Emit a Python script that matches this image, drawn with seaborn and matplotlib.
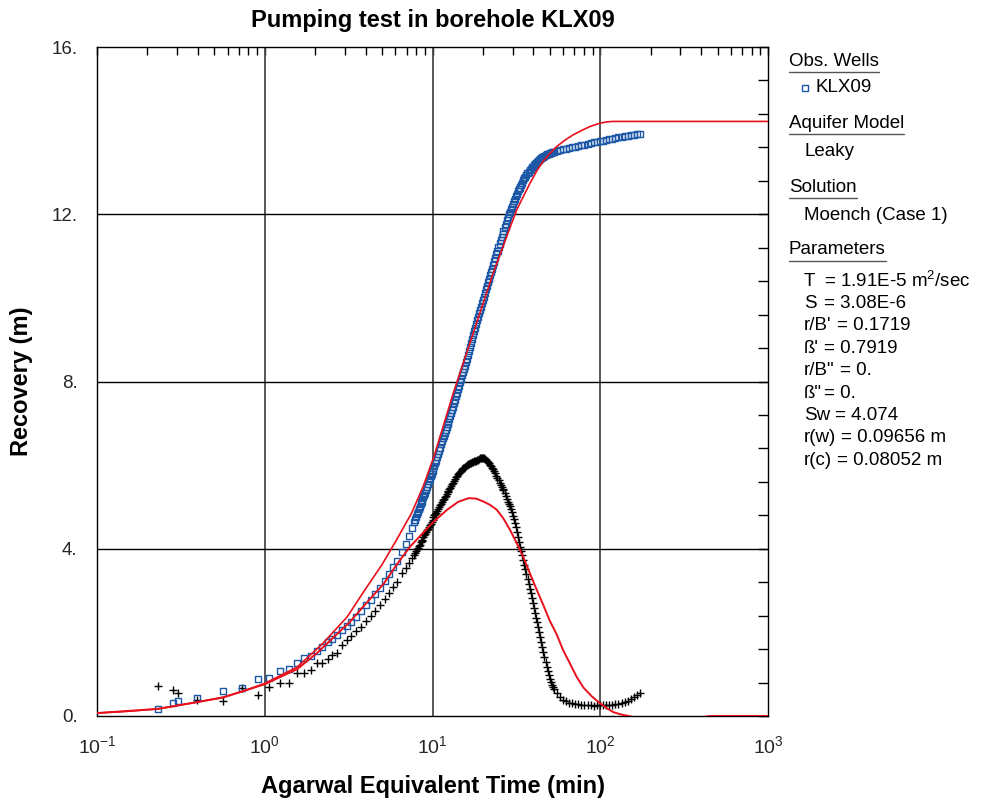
import matplotlib
matplotlib.use("Agg")
import matplotlib.pyplot as plt
import seaborn as sns
import pandas as pd
from matplotlib.ticker import FixedLocator, FixedFormatter, NullFormatter, MultipleLocator
from matplotlib.lines import Line2D

# ---------------- data ----------------
time_min = [0.231, 0.284, 0.304, 0.394, 0.563, 0.731, 0.911, 1.06, 1.23, 1.40,
            1.56, 1.71, 1.89, 2.05, 2.19, 2.38, 2.52, 2.70, 2.89, 3.09,
            3.27, 3.50, 3.75, 4.02, 4.30, 4.54, 4.86, 5.21, 5.51, 5.82,
            6.14, 6.58, 6.95, 7.24, 7.55,
            7.8, 7.9, 8.0, 8.1, 8.2, 8.3, 8.4, 8.5, 8.6, 8.7,
            8.8, 8.9, 9.0, 9.12, 9.25, 9.37, 9.5, 9.62, 9.75, 9.87,
            10.0, 10.12, 10.25, 10.37, 10.5, 10.65, 10.8, 10.95, 11.1, 11.25,
            11.4, 11.55, 11.7, 11.85, 12.0, 12.15, 12.3, 12.45, 12.6, 12.75,
            12.9, 13.05, 13.2, 13.4, 13.6, 13.8, 14.0, 14.2, 14.4, 14.6,
            14.8, 15.0, 15.2, 15.4, 15.6, 15.8, 16.0, 16.25, 16.5, 16.75,
            17.0, 17.25, 17.5, 17.75, 18.0, 18.25, 18.5, 18.75, 19.0, 19.25,
            19.5, 19.75, 20.0, 20.3, 20.6, 20.9, 21.2, 21.5, 21.8, 22.1,
            22.4, 22.7, 23.0, 23.35, 23.7, 24.05, 24.4, 24.75, 25.1, 25.45,
            25.8, 26.15, 26.5, 26.9, 27.3, 27.7, 28.1, 28.5, 28.9, 29.3,
            29.7, 30.15, 30.6, 31.05, 31.5, 31.95, 32.4, 32.85, 33.3, 33.8,
            34.3, 34.8, 35.3, 35.8, 36.3, 36.85, 37.4, 37.95, 38.5, 39.05,
            39.6, 40.2, 40.8, 41.4, 42.0, 42.6, 43.2, 43.85, 44.5, 45.15,
            45.8, 46.5, 47.2, 47.9, 48.6, 49.3, 50.0, 50.75, 51.5, 52.25,
            53.0,
            55, 57.5, 60, 62.5, 65, 68, 71, 74, 77, 80,
            84, 88, 92, 96, 100, 104, 108, 113, 118, 123,
            128, 134, 140, 146, 152, 158, 165, 172]

recovery_m = [0.17, 0.31, 0.36, 0.43, 0.60, 0.67, 0.89, 0.91, 1.08, 1.12,
              1.27, 1.39, 1.44, 1.56, 1.65, 1.77, 1.84, 1.94, 2.06, 2.15,
              2.25, 2.37, 2.51, 2.66, 2.78, 2.92, 3.06, 3.23, 3.40, 3.56,
              3.71, 3.92, 4.12, 4.30, 4.50,
              4.64, 4.70, 4.75, 4.82, 4.88, 4.94, 5.00, 5.06, 5.11, 5.17,
              5.23, 5.29, 5.34, 5.41, 5.48, 5.55, 5.61, 5.67, 5.73, 5.79,
              5.85, 5.92, 5.99, 6.05, 6.11, 6.19, 6.27, 6.35, 6.42, 6.50,
              6.57, 6.64, 6.70, 6.77, 6.84, 6.91, 6.98, 7.04, 7.10, 7.18,
              7.25, 7.32, 7.39, 7.48, 7.56, 7.65, 7.73, 7.81, 7.89, 7.98,
              8.06, 8.15, 8.23, 8.31, 8.38, 8.46, 8.54, 8.64, 8.73, 8.83,
              8.92, 9.02, 9.12, 9.21, 9.29, 9.38, 9.46, 9.55, 9.63, 9.71,
              9.79, 9.87, 9.94, 10.03, 10.12, 10.21, 10.29, 10.37, 10.45, 10.54,
              10.62, 10.70, 10.78, 10.87, 10.96, 11.04, 11.12, 11.21, 11.30, 11.38,
              11.46, 11.53, 11.60, 11.69, 11.77, 11.86, 11.94, 12.00, 12.06, 12.12,
              12.18, 12.25, 12.31, 12.37, 12.43, 12.49, 12.55, 12.60, 12.64, 12.70,
              12.75, 12.81, 12.86, 12.90, 12.94, 12.98, 13.02, 13.06, 13.09, 13.12,
              13.14, 13.17, 13.20, 13.23, 13.25, 13.27, 13.29, 13.32, 13.34, 13.36,
              13.38, 13.40, 13.41, 13.43, 13.44, 13.45, 13.46, 13.47, 13.48, 13.49,
              13.50,
              13.52, 13.54, 13.55, 13.57, 13.58, 13.60, 13.61, 13.63, 13.65, 13.66,
              13.68, 13.70, 13.72, 13.73, 13.75, 13.76, 13.78, 13.79, 13.81, 13.83,
              13.84, 13.85, 13.87, 13.88, 13.89, 13.90, 13.92, 13.93]

derivative_m = [0.72, 0.62, 0.55, 0.38, 0.36, 0.67, 0.50, 0.69, 0.78, 0.78,
                1.03, 1.03, 1.10, 1.27, 1.27, 1.36, 1.45, 1.51, 1.70, 1.82,
                1.92, 2.04, 2.12, 2.28, 2.40, 2.52, 2.65, 2.81, 2.95, 3.08,
                3.21, 3.42, 3.53, 3.65, 3.78,
                3.86, 3.91, 3.94, 3.99, 4.02, 4.06, 4.10, 4.15, 4.18, 4.22,
                4.27, 4.32, 4.35, 4.39, 4.44, 4.48, 4.52, 4.57, 4.59, 4.63,
                4.68, 4.75, 4.80, 4.82, 4.86, 4.90, 4.95, 4.99, 5.04, 5.08,
                5.12, 5.17, 5.20, 5.23, 5.27, 5.32, 5.35, 5.38, 5.42, 5.46,
                5.50, 5.54, 5.57, 5.62, 5.66, 5.71, 5.74, 5.78, 5.80, 5.84,
                5.86, 5.90, 5.92, 5.93, 5.96, 5.99, 6.00, 6.02, 6.03, 6.05,
                6.06, 6.08, 6.08, 6.09, 6.10, 6.11, 6.12, 6.13, 6.14, 6.16,
                6.16, 6.17, 6.17, 6.17, 6.15, 6.13, 6.10, 6.07, 6.04, 6.01,
                5.97, 5.94, 5.90, 5.85, 5.80, 5.75, 5.70, 5.64, 5.58, 5.53,
                5.48, 5.44, 5.40, 5.33, 5.26, 5.19, 5.13, 5.08, 5.02, 4.95,
                4.88, 4.79, 4.70, 4.61, 4.52, 4.40, 4.27, 4.16, 4.05, 3.95,
                3.84, 3.73, 3.62, 3.51, 3.40, 3.28, 3.15, 3.04, 2.93, 2.82,
                2.70, 2.58, 2.46, 2.35, 2.24, 2.12, 2.01, 1.89, 1.77, 1.65,
                1.53, 1.41, 1.29, 1.18, 1.07, 0.97, 0.88, 0.81, 0.75, 0.70,
                0.65,
                0.54, 0.45, 0.39, 0.35, 0.32, 0.30, 0.29, 0.28, 0.27, 0.27,
                0.26, 0.26, 0.25, 0.26, 0.26, 0.26, 0.27, 0.26, 0.27, 0.28,
                0.29, 0.31, 0.33, 0.37, 0.41, 0.46, 0.51, 0.56]

model_t = [0.1, 0.15, 0.231, 0.394, 0.563, 0.75, 1.0, 1.56, 2.2, 3.1,
           3.9, 5.0, 6.1, 7.5, 8.8, 10.2, 13.3, 17.5, 23.0, 27.7,
           31.8, 38.1, 42.0, 45.7, 50.0, 55, 62, 69, 78, 87,
           100, 110, 120, 1000]
model_recovery = [0.07, 0.11, 0.17, 0.33, 0.45, 0.60, 0.78, 1.17, 1.72, 2.37,
                  2.98, 3.62, 4.21, 4.85, 5.49, 6.20, 7.72, 9.16, 10.59, 11.47,
                  12.11, 12.74, 13.05, 13.27, 13.45, 13.62, 13.78, 13.90, 14.01, 14.10,
                  14.18, 14.21, 14.22, 14.22]

deriv_t = [0.1, 0.231, 0.563, 1.0, 1.56, 2.04, 3.22, 3.87, 5.09, 6.12,
           7.35, 10.0, 12.2, 14.2, 16.4, 18.2, 20.1, 22.0, 24.2, 26.5,
           29.0, 33.3, 35.6, 38.1, 41.7, 45.8, 50.0, 55.0, 60.0, 66.1,
           72.0, 79.4, 89.0, 100, 110, 120, 135, 148, 200, 320,
           450, 1000]
model_derivative = [0.07, 0.17, 0.44, 0.76, 1.12, 1.50, 2.25, 2.62, 3.15, 3.62,
                    4.05, 4.62, 4.93, 5.12, 5.21, 5.20, 5.13, 5.05, 4.93, 4.72,
                    4.45, 3.97, 3.70, 3.41, 3.03, 2.65, 2.28, 1.95, 1.58, 1.25,
                    0.95, 0.68, 0.47, 0.30, 0.18, 0.09, 0.03, 0.0, -0.12, -0.08,
                    0.0, 0.0]

x_tick_values = [0.1, 1, 10, 100, 1000]
x_tick_labels = [r"$10^{-1}$", r"$10^{0}$", r"$10^{1}$", r"$10^{2}$", r"$10^{3}$"]
y_tick_values = [0, 4, 8, 12, 16]
y_tick_labels = ["0.", "4.", "8.", "12.", "16."]

title_text = "Pumping test in borehole KLX09"
x_label = "Agarwal Equivalent Time (min)"
y_label = "Recovery (m)"

param_names = ["T", "S", "r/B'", "ß'", "r/B\"", "ß\"", "Sw", "r(w)", "r(c)"]
param_values = ["= 1.91E-5 m$^2$/sec", "= 3.08E-6", "= 0.1719", "= 0.7919",
                "= 0.", "= 0.", "= 4.074", "= 0.09656 m", "= 0.08052 m"]
aligned_names = ["T", "S", "ß'", "ß\""]

# ---------------- style ----------------
sns.set_theme(style="white")
plt.rcParams["font.family"] = ["Liberation Sans", "DejaVu Sans"]
plt.rcParams["mathtext.fontset"] = "custom"
plt.rcParams["mathtext.rm"] = "Liberation Sans"
plt.rcParams["mathtext.it"] = "Liberation Sans:italic"
plt.rcParams["mathtext.bf"] = "Liberation Sans:bold"

BLUE = "#1c58a6"
RED = "#e8101a"
FS = 13.5

W, H = 997, 800
fig = plt.figure(figsize=(W / 100, H / 100), dpi=100)
fig.patch.set_facecolor("white")
ax = fig.add_axes([97 / W, 84 / H, 671 / W, 669 / H])
ax.set_facecolor("white")
ax.set_xscale("log")

obs = pd.DataFrame({"t": time_min, "rec": recovery_m, "der": derivative_m})
mod = pd.DataFrame({"t": model_t, "v": model_recovery})
der = pd.DataFrame({"t": deriv_t, "v": model_derivative})

sns.scatterplot(data=obs, x="t", y="der", ax=ax, marker="+", s=34,
                color="black", linewidth=1.0, zorder=3, legend=False)
sns.scatterplot(data=obs, x="t", y="rec", ax=ax, marker="s", s=19,
                facecolor="none", edgecolor=BLUE, linewidth=1.0, zorder=3,
                legend=False)
sns.lineplot(data=mod, x="t", y="v", ax=ax, color=RED, linewidth=1.2,
             sort=False, estimator=None, zorder=4)
sns.lineplot(data=der, x="t", y="v", ax=ax, color=RED, linewidth=1.4,
             sort=False, estimator=None, zorder=4)

ax.set_xlim(0.1, 1000)
ax.set_ylim(0, 16)

# ticks
ax.xaxis.set_major_locator(FixedLocator(x_tick_values))
ax.xaxis.set_major_formatter(FixedFormatter(x_tick_labels))
minor_x = [m * 10.0 ** e for e in range(-1, 3) for m in range(2, 10)]
ax.xaxis.set_minor_locator(FixedLocator(minor_x))
ax.xaxis.set_minor_formatter(NullFormatter())
ax.yaxis.set_major_locator(FixedLocator(y_tick_values))
ax.yaxis.set_major_formatter(FixedFormatter(y_tick_labels))
ax.yaxis.set_minor_locator(MultipleLocator(0.8))

ax.tick_params(which="both", direction="in", top=True, right=True,
               color="black", width=1.0)
ax.tick_params(axis="y", which="both", length=7.5)
ax.tick_params(axis="x", which="both", length=6)
ax.tick_params(axis="y", which="major", pad=14, labelsize=FS)
ax.tick_params(axis="x", which="major", pad=14, labelsize=FS + 0.5)

for s in ax.spines.values():
    s.set_visible(True)
    s.set_color("black")
    s.set_linewidth(1.0)
    s.set_zorder(2.5)

ax.grid(False)
for xv in [1, 10, 100]:
    ax.axvline(xv, color="#4a4a4a", lw=1.3, zorder=1)
for yv in [4, 8, 12]:
    ax.axhline(yv, color="black", lw=1.0, zorder=1)

# labels
ax.set_xlabel(x_label, fontsize=17, fontweight="bold", color="black")
ax.xaxis.set_label_coords(0.5, (716 - 786) / 669)
ax.xaxis.label.set_va("center")
ax.set_ylabel(y_label, fontsize=17, fontweight="bold", color="black")
ax.yaxis.set_label_coords((22 - 97) / 671, 0.5)
ax.yaxis.label.set_va("center")

fig.text(432.5 / W, 1 - 20 / H, title_text, ha="center", va="center",
         fontsize=17, fontweight="bold", color="black")


# right-side information panel
def fy(py):
    return 1 - py / H


headers = [("Obs. Wells", 61), ("Aquifer Model", 123), ("Solution", 187), ("Parameters", 250)]
header_texts = []
for txt, py in headers:
    t = fig.text(789 / W, fy(py), txt, ha="left", va="center", fontsize=FS, color="black")
    header_texts.append(t)

fig.text(815 / W, fy(88), "KLX09", ha="left", va="center", fontsize=FS, color="black")
fig.add_artist(Line2D([805 / W], [fy(88)], marker="s", markersize=4.2,
                      markerfacecolor="none", markeredgecolor=BLUE, markeredgewidth=1.0,
                      transform=fig.transFigure))
fig.text(804 / W, fy(152), "Leaky", ha="left", va="center", fontsize=FS, color="black")
fig.text(804 / W, fy(216), "Moench (Case 1)", ha="left", va="center", fontsize=FS, color="black")

name_artists = []
for i, nm in enumerate(param_names):
    py = 281 + 22.4 * i
    name_artists.append(fig.text(804 / W, fy(py), nm, ha="left", va="center",
                                 fontsize=FS, color="black"))

fig.canvas.draw()
renderer = fig.canvas.get_renderer()
for t, val in zip(name_artists, param_values):
    nm = t.get_text()
    if nm in aligned_names:
        x0 = 824
    else:
        x0 = t.get_window_extent(renderer).x1 + 5
    fig.text(x0 / W, t.get_position()[1], val, ha="left", va="center",
             fontsize=FS, color="black")

for t in header_texts:
    bb = t.get_window_extent(renderer)
    y = bb.y0 - 2
    fig.add_artist(Line2D([bb.x0 / W, bb.x1 / W], [y / H, y / H],
                          color="#555555", lw=1.0, transform=fig.transFigure))

fig.savefig("out.png", dpi=100, facecolor="white")
